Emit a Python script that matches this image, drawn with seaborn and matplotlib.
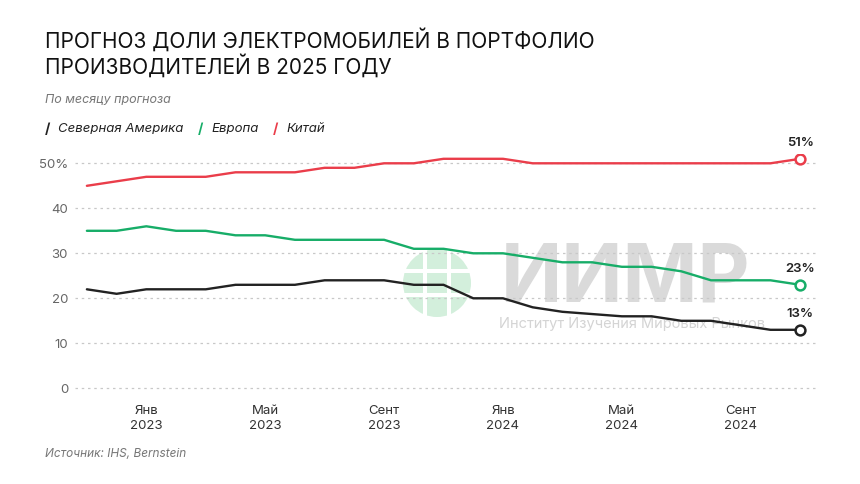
import matplotlib
matplotlib.use("Agg")
import matplotlib.pyplot as plt
import matplotlib.patches as mpatches
import seaborn as sns
import pandas as pd

# ---- data ----
months = ["2022-11", "2022-12", "2023-01", "2023-02", "2023-03", "2023-04", "2023-05",
          "2023-06", "2023-07", "2023-08", "2023-09", "2023-10", "2023-11", "2023-12",
          "2024-01", "2024-02", "2024-03", "2024-04", "2024-05", "2024-06", "2024-07",
          "2024-08", "2024-09", "2024-10", "2024-11"]
north_america = [22, 21, 22, 22, 22, 23, 23, 23, 24, 24, 24, 23, 23, 20, 20, 18, 17, 16.5,
                 16, 16, 15, 15, 14, 13, 13]
europe = [35, 35, 36, 35, 35, 34, 34, 33, 33, 33, 33, 31, 31, 30, 30, 29, 28, 28, 27, 27,
          26, 24, 24, 24, 23]
china = [45, 46, 47, 47, 47, 48, 48, 48, 49, 49, 50, 50, 51, 51, 51, 50, 50, 50, 50, 50,
         50, 50, 50, 50, 51]
series_names = ["Северная Америка", "Европа", "Китай"]
tick_months = ["2023-01", "2023-05", "2023-09", "2024-01", "2024-05", "2024-09"]
tick_labels = ["Янв\n2023", "Май\n2023", "Сент\n2023", "Янв\n2024", "Май\n2024", "Сент\n2024"]
y_ticks = [0, 10, 20, 30, 40, 50]
y_labels = ["0", "10", "20", "30", "40", "50%"]

colors = {"Северная Америка": "#222222", "Европа": "#17ad68", "Китай": "#ea3d4a"}

rows = []
for name, vals in zip(series_names, [north_america, europe, china]):
    for i, (m, v) in enumerate(zip(months, vals)):
        rows.append({"idx": i, "month": m, "value": v, "series": name})
df = pd.DataFrame(rows)

sns.set_theme(style="white")
plt.rcParams["font.family"] = ["Inter", "DejaVu Sans"]

fig = plt.figure(figsize=(8.6, 4.84), dpi=100)
ax = fig.add_axes([75 / 860, 1 - 392.8 / 484, (818 - 75) / 860, (392.8 - 154.3) / 484])
ax.patch.set_alpha(0)

sns.lineplot(data=df, x="idx", y="value", hue="series", palette=colors,
             linewidth=1.7, ax=ax, legend=False, zorder=3)

# end markers + labels
for name, vals in zip(series_names, [north_america, europe, china]):
    last_i = len(vals) - 1
    ax.scatter([last_i], [vals[-1]], s=50, facecolor="white", edgecolor=colors[name],
               linewidth=1.8, zorder=5)
    ax.annotate(f"{vals[-1]:g}%", (last_i, vals[-1]), xytext=(0, 7),
                textcoords="offset points", ha="center", va="bottom",
                fontsize=9.5, fontweight="semibold", color="#222222")

ax.set_xlim(-0.4, 24.6)
ax.set_ylim(-1, 52)
ax.set_yticks(y_ticks)
ax.set_yticklabels(y_labels)
ax.set_xticks([months.index(m) for m in tick_months])
ax.set_xticklabels(tick_labels)
ax.tick_params(axis="both", length=0, labelsize=9.5, colors="#333333")
ax.tick_params(axis="y", pad=5, colors="#666666")
ax.tick_params(axis="x", pad=9)
for lbl in ax.get_xticklabels():
    lbl.set_linespacing(1.3)
for s in ax.spines.values():
    s.set_visible(False)
ax.set_xlabel("")
ax.set_ylabel("")
ax.grid(False)
for y in y_ticks:
    ax.axhline(y, color="#c8c8c8", linestyle=(0, (2, 3)), linewidth=0.9, zorder=1)

# watermark
ax.text(0.573, 0.47, "ИИМР", transform=ax.transAxes, fontsize=58, fontweight="bold",
        color="#dadada", ha="left", va="center", zorder=0.5)
ax.text(0.571, 0.29, "Институт Изучения Мировых Рынков", transform=ax.transAxes,
        fontsize=10.5, color="#d4d4d4", ha="left", va="center", zorder=0.5)
gx, gy = 4.37, 4.84 - 2.83
globe = mpatches.Circle((gx, gy), 0.34, transform=fig.dpi_scale_trans,
                        facecolor="#d3efdc", edgecolor="none", zorder=0.4)
ax.add_patch(globe)
for dx in (-0.12, 0.12):
    ax.add_patch(mpatches.Rectangle((gx + dx - 0.02, gy - 0.34), 0.04, 0.68,
                                    transform=fig.dpi_scale_trans, facecolor="white",
                                    edgecolor="none", zorder=0.45))
for dy in (-0.12, 0.12):
    ax.add_patch(mpatches.Rectangle((gx - 0.34, gy + dy - 0.02), 0.68, 0.04,
                                    transform=fig.dpi_scale_trans, facecolor="white",
                                    edgecolor="none", zorder=0.45))

# titles
fig.text(45 / 860, 1 - 40 / 484, "ПРОГНОЗ ДОЛИ ЭЛЕКТРОМОБИЛЕЙ В ПОРТФОЛИО",
         fontsize=15, color="#111111", ha="left", va="center")
fig.text(45 / 860, 1 - 66 / 484, "ПРОИЗВОДИТЕЛЕЙ В 2025 ГОДУ",
         fontsize=15, color="#111111", ha="left", va="center")
fig.text(45 / 860, 1 - 100 / 484, "По месяцу прогноза", fontsize=9, style="italic",
         color="#777777", ha="left", va="center")

# legend
leg_x = [45, 198, 273]
for x0, name in zip(leg_x, series_names):
    fig.text(x0 / 860, 1 - 129 / 484, "/", fontsize=10, fontweight="bold",
             color=colors[name], ha="left", va="center")
    fig.text((x0 + 13) / 860, 1 - 129 / 484, name, fontsize=9.5, style="italic",
             color="#222222", ha="left", va="center")

fig.text(45 / 860, 1 - 454 / 484, "Источник: IHS, Bernstein", fontsize=8.5,
         style="italic", color="#777777", ha="left", va="center")

fig.savefig("out.png", dpi=100)
